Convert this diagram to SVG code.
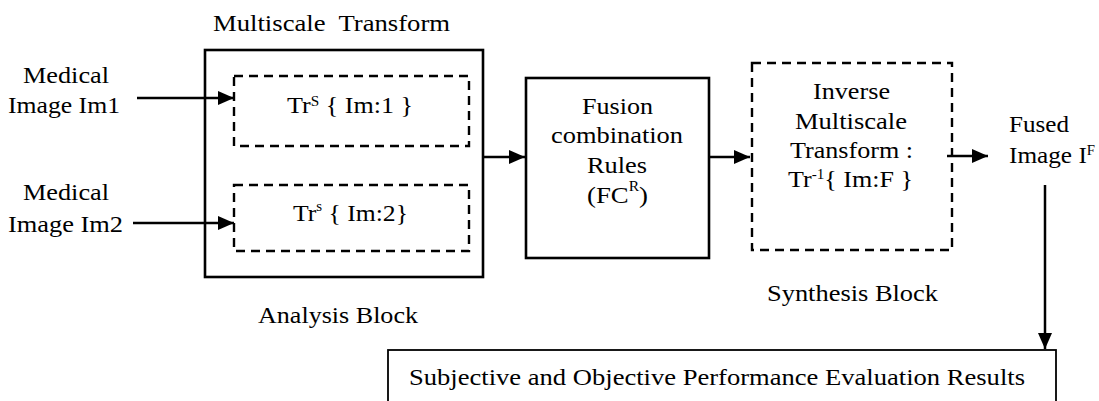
<svg xmlns="http://www.w3.org/2000/svg" width="1099" height="401" viewBox="0 0 1099 401">
  <style>
    .lbl { font-family: "Liberation Serif", "Times New Roman", serif; font-size: 24px; fill: #000; }
    .sup { font-size: 14px; }
    .solid { fill: #fff; stroke: #000; stroke-width: 2.6; }
    .thin { fill: #fff; stroke: #000; stroke-width: 1.8; }
    .dash { fill: none; stroke: #000; stroke-width: 2.4; stroke-dasharray: 9 6; }
    .wire { fill: none; stroke: #000; stroke-width: 2.5; }
  </style>
  <defs>
    <marker id="arrow" markerUnits="userSpaceOnUse" markerWidth="17" markerHeight="15" refX="16" refY="7" orient="auto">
      <path d="M0,0 L16,7 L0,14 Z" fill="#000"/>
    </marker>
  </defs>
  <rect width="1099" height="401" fill="#fff"/>

  <!-- input labels -->
  <g id="input1">
    <text class="lbl" x="23" y="83" textLength="86" lengthAdjust="spacingAndGlyphs">Medical</text>
    <text class="lbl" x="8" y="113" textLength="112" lengthAdjust="spacingAndGlyphs">Image Im1</text>
  </g>
  <g id="input2">
    <text class="lbl" x="23" y="200" textLength="86" lengthAdjust="spacingAndGlyphs">Medical</text>
    <text class="lbl" x="8" y="232" textLength="115" lengthAdjust="spacingAndGlyphs">Image Im2</text>
  </g>

  <!-- analysis block: multiscale transform with two sub-transforms -->
  <g id="analysis">
    <text class="lbl" x="213" y="31" xml:space="preserve" textLength="237" lengthAdjust="spacingAndGlyphs">Multiscale  Transform</text>
    <rect class="solid" x="205" y="50" width="278" height="227"/>
    <text class="lbl" x="258" y="323" textLength="160" lengthAdjust="spacingAndGlyphs">Analysis Block</text>
  </g>
  <g id="transform1">
    <rect class="dash" x="234" y="76" width="235" height="70"/>
    <text class="lbl" x="287" y="113" textLength="126" lengthAdjust="spacingAndGlyphs">Tr<tspan class="sup" dy="-7" font-size="15">S</tspan><tspan dy="7"> { Im:1 }</tspan></text>
  </g>
  <g id="transform2">
    <rect class="dash" x="234" y="185" width="235" height="66"/>
    <text class="lbl" x="293" y="221" textLength="115" lengthAdjust="spacingAndGlyphs">Tr<tspan class="sup" dy="-10">s</tspan><tspan dy="10"> { Im:2}</tspan></text>
  </g>

  <!-- fusion rules -->
  <g id="fusion">
    <rect class="solid" x="526" y="78" width="183" height="180"/>
    <text class="lbl" x="582" y="114" textLength="71" lengthAdjust="spacingAndGlyphs">Fusion</text>
    <text class="lbl" x="551" y="143" textLength="132" lengthAdjust="spacingAndGlyphs">combination</text>
    <text class="lbl" x="587" y="173" textLength="60" lengthAdjust="spacingAndGlyphs">Rules</text>
    <text class="lbl" x="587" y="203" textLength="61" lengthAdjust="spacingAndGlyphs">(FC<tspan class="sup" dy="-12">R</tspan><tspan dy="12">)</tspan></text>
  </g>

  <!-- synthesis block -->
  <g id="synthesis">
    <rect class="dash" x="752" y="63" width="200" height="187"/>
    <text class="lbl" x="813" y="99" textLength="77" lengthAdjust="spacingAndGlyphs">Inverse</text>
    <text class="lbl" x="795" y="129" textLength="112" lengthAdjust="spacingAndGlyphs">Multiscale</text>
    <text class="lbl" x="790" y="158" textLength="123" lengthAdjust="spacingAndGlyphs">Transform :</text>
    <text class="lbl" x="788" y="187" textLength="125" lengthAdjust="spacingAndGlyphs">Tr<tspan class="sup" dy="-8">-1</tspan><tspan dy="8">{ Im:F }</tspan></text>
    <text class="lbl" x="767" y="301" textLength="171" lengthAdjust="spacingAndGlyphs">Synthesis Block</text>
  </g>

  <!-- fused output -->
  <g id="fused">
    <text class="lbl" x="1009" y="132" textLength="60" lengthAdjust="spacingAndGlyphs">Fused</text>
    <text class="lbl" x="1009" y="163" textLength="86" lengthAdjust="spacingAndGlyphs">Image I<tspan class="sup" dy="-8">F</tspan></text>
  </g>

  <!-- evaluation -->
  <g id="evaluation">
    <rect class="thin" x="388" y="350" width="668" height="70"/>
    <text class="lbl" x="409" y="385" textLength="616" lengthAdjust="spacingAndGlyphs">Subjective and Objective Performance Evaluation Results</text>
  </g>

  <!-- connectors -->
  <g id="connectors">
    <path class="wire" d="M137,98 H234" marker-end="url(#arrow)"/>
    <path class="wire" d="M133,223 H234" marker-end="url(#arrow)"/>
    <path class="wire" d="M483,157 H525" marker-end="url(#arrow)"/>
    <path class="wire" d="M709,157 H750" marker-end="url(#arrow)"/>
    <path class="wire" d="M947,156 H988" marker-end="url(#arrow)"/>
    <path class="wire" d="M1045,185 V349" marker-end="url(#arrow)"/>
  </g>
</svg>
